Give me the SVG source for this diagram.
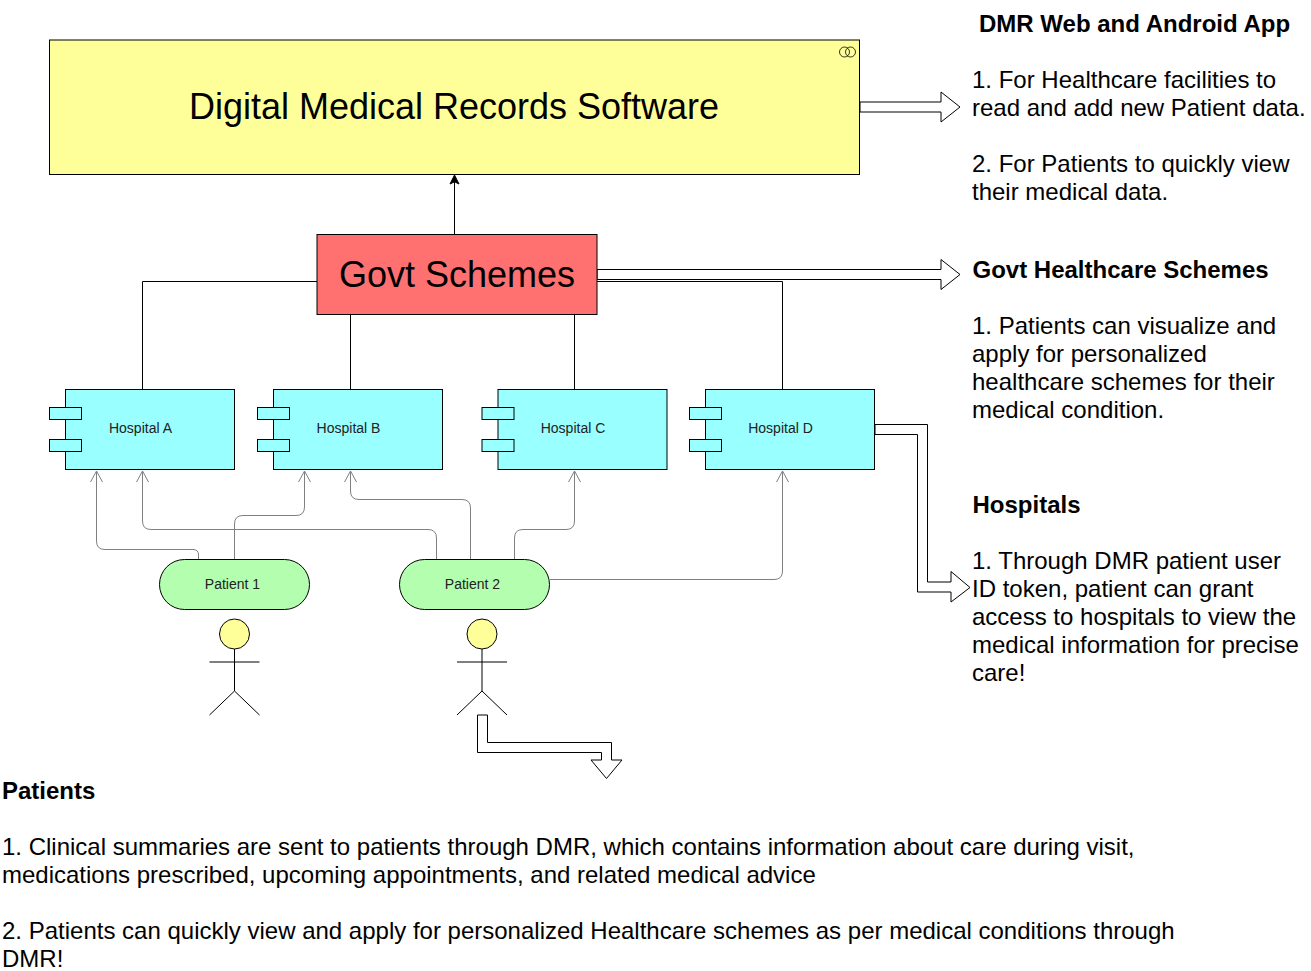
<svg xmlns="http://www.w3.org/2000/svg" width="1311" height="971" viewBox="0 0 1311 971">
<style>
text{font-family:"Liberation Sans",Arial,sans-serif;fill:#000}
.s{stroke:#000;stroke-width:1;fill:none}
.g{stroke:#808080;stroke-width:1;fill:none}
.f{stroke:#000;stroke-width:1;fill:#fff}
.c{fill:#99ffff;stroke:#000}
.p{fill:#b3ffaf;stroke:#000}
.a{stroke:#000;stroke-width:1;fill:none}
.l{font-size:14px;text-anchor:middle;fill:#222}
.bb{font-size:24px;font-weight:bold}
.t{font-size:24px}
</style>
<rect width="1311" height="971" fill="#fff"/>
<g id="connectors">
<path class="s" d="M454.500 234.500V176"/><path d="M454.500 175l-4.500 9 4.500-2.200 4.500 2.200z" fill="#000" stroke="#000"/>
<path class="s" d="M317 281.500H142.500V389.500"/>
<path class="s" d="M350.500 315V389.500"/>
<path class="s" d="M574.500 315V389.500"/>
<path class="s" d="M597 281.500H782.500V389.500"/>
<path class="g" d="M198.500 559.500V555Q198.500 549.500 193 549.500H105Q96.500 549.500 96.500 541V471M90.500 482L96.500 471L102.500 482"/>
<path class="g" d="M436.500 559.500V538Q436.500 529.500 428 529.500H151Q142.500 529.500 142.500 521V471M136.500 482L142.500 471L148.500 482"/>
<path class="g" d="M234.500 559.500V524Q234.500 515.500 243 515.500H296Q304.500 515.500 304.500 507V471M298.500 482L304.500 471L310.500 482"/>
<path class="g" d="M470.500 559.500V508Q470.500 499.500 462 499.500H359Q350.500 499.500 350.500 491V471M344.500 482L350.500 471L356.500 482"/>
<path class="g" d="M514.500 559.500V538Q514.500 529.500 523 529.500H566Q574.500 529.500 574.500 521V471M568.500 482L574.500 471L580.500 482"/>
<path class="g" d="M550 579.500H774Q782.500 579.500 782.500 571V471M776.500 482L782.500 471L788.500 482"/>
<path class="f" d="M860 102H941V92L960 107L941 122V112H860Z"/>
<path class="f" d="M597 269.500H941V259.500L960 274.500L941 289.500V279.500H597Z"/>
<path class="f" d="M875 424.500H927.500V582H951V571.500L970 587.500L951 602V592H917.500V434.500H875Z"/>
<path class="f" d="M477.500 715H487.500V742.500H611.500V760H622L606.500 778.500L591 760H601.500V752.500H477.500Z"/>
</g>
<g id="dmr-software">
<rect x="49.500" y="40" width="810" height="134.500" fill="#ffff99" stroke="#000"/>
<circle cx="844.500" cy="52" r="5" fill="none" stroke="#000" stroke-width=".8"/><circle cx="850.500" cy="52" r="5" fill="none" stroke="#000" stroke-width=".8"/>
<text x="454" y="119" font-size="36" text-anchor="middle">Digital Medical Records Software</text>
</g>
<g id="govt-schemes">
<rect x="317" y="234.500" width="280" height="80" fill="#ff7070" stroke="#000"/>
<text x="457" y="287" font-size="36" text-anchor="middle">Govt Schemes</text>
</g>
<g id="hospital-a"><rect class="c" x="65.500" y="389.500" width="169" height="80"/><rect class="c" x="49.500" y="407.500" width="32" height="12"/><rect class="c" x="49.500" y="439.500" width="32" height="12"/><text class="l" x="140.500" y="433">Hospital A</text></g>
<g id="hospital-b"><rect class="c" x="273.500" y="389.500" width="169" height="80"/><rect class="c" x="257.500" y="407.500" width="32" height="12"/><rect class="c" x="257.500" y="439.500" width="32" height="12"/><text class="l" x="348.500" y="433">Hospital B</text></g>
<g id="hospital-c"><rect class="c" x="498" y="389.500" width="169" height="80"/><rect class="c" x="482" y="407.500" width="32" height="12"/><rect class="c" x="482" y="439.500" width="32" height="12"/><text class="l" x="573" y="433">Hospital C</text></g>
<g id="hospital-d"><rect class="c" x="705.500" y="389.500" width="169" height="80"/><rect class="c" x="689.500" y="407.500" width="32" height="12"/><rect class="c" x="689.500" y="439.500" width="32" height="12"/><text class="l" x="780.500" y="433">Hospital D</text></g>
<g id="patient-1"><rect class="p" x="159.500" y="559.500" width="150" height="50" rx="25"/><text class="l" x="232.500" y="589">Patient 1</text></g>
<g id="patient-2"><rect class="p" x="399.500" y="559.500" width="150" height="50" rx="25"/><text class="l" x="472.500" y="589">Patient 2</text></g>
<g id="actor-1"><circle cx="234.500" cy="634" r="15" fill="#ffff99" stroke="#000"/><path class="a" d="M234.500 649V691M209.500 662H259.500M209.500 715L234.500 691L259.500 715"/></g>
<g id="actor-2"><circle cx="482" cy="634" r="15" fill="#ffff99" stroke="#000"/><path class="a" d="M482 649V691M457 662H507M457 715L482 691L507 715"/></g>
<g id="note-app">
<text class="bb" x="979" y="32">DMR Web and Android App</text>
<text class="t" x="972" y="88">1. For Healthcare facilities to</text>
<text class="t" x="972" y="116">read and add new Patient data.</text>
<text class="t" x="972" y="172">2. For Patients to quickly view</text>
<text class="t" x="972" y="200">their medical data.</text>
</g>
<g id="note-schemes">
<text class="bb" x="972.500" y="278">Govt Healthcare Schemes</text>
<text class="t" x="972" y="334">1. Patients can visualize and</text>
<text class="t" x="972" y="362">apply for personalized</text>
<text class="t" x="972" y="390">healthcare schemes for their</text>
<text class="t" x="972" y="418">medical condition.</text>
</g>
<g id="note-hospitals">
<text class="bb" x="972.500" y="513">Hospitals</text>
<text class="t" x="972" y="569">1. Through DMR patient user</text>
<text class="t" x="972" y="597">ID token, patient can grant</text>
<text class="t" x="972" y="625">access to hospitals to view the</text>
<text class="t" x="972" y="653">medical information for precise</text>
<text class="t" x="972" y="681">care!</text>
</g>
<g id="note-patients">
<text class="bb" x="2" y="799">Patients</text>
<text class="t" x="2" y="855">1. Clinical summaries are sent to patients through DMR, which contains information about care during visit,</text>
<text class="t" x="2" y="883">medications prescribed, upcoming appointments, and related medical advice</text>
<text class="t" x="2" y="939">2. Patients can quickly view and apply for personalized Healthcare schemes as per medical conditions through</text>
<text class="t" x="2" y="967">DMR!</text>
</g>
</svg>
